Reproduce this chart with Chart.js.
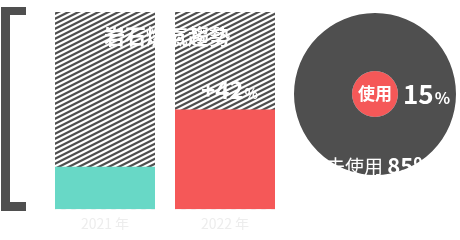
<!DOCTYPE html>
<html><head><meta charset="utf-8">
<script src="https://cdn.jsdelivr.net/npm/chart.js@4/dist/chart.umd.min.js"></script>
<style>
html,body{margin:0;padding:0;background:#fff;width:460px;height:240px;overflow:hidden;}
#bracket{position:absolute;left:1px;top:7px;width:16px;height:187px;border-left:9px solid #4f4f4f;border-top:8px solid #4f4f4f;border-bottom:9px solid #4f4f4f;}
#bars{position:absolute;left:0;top:0;}
#pie{position:absolute;left:290px;top:0;}
</style></head><body>
<div id="bracket"></div>
<canvas id="bars" width="300" height="240"></canvas>
<canvas id="pie" width="170" height="188"></canvas>
<script>
const years = ['2021 年', '2022 年'];
const shareValues = [21.5, 50.5];
const fullValues = [100, 100];
const titleText = '岩石燃氣趨勢';
const growthNumber = '+42';
const usageLabels = ['未使用', '使用'];
const usageValues = [85, 15];

const DARK = '#4f4f4f';
const FONT = "'Noto Sans CJK TC','Noto Sans',sans-serif";

function makeHatch() {
  const w = 10, h = 5;
  const c = document.createElement('canvas');
  c.width = w; c.height = h;
  const g = c.getContext('2d');
  const img = g.createImageData(w, h);
  for (let y = 0; y < h; y++) for (let x = 0; x < w; x++) {
    let cov = 0;
    for (let sy = 0; sy < 4; sy++) for (let sx = 0; sx < 4; sx++) {
      const px = x + (sx + 0.5) / 4, py = y + (sy + 0.5) / 4;
      const ph = ((py + px / 2) % 5 + 5) % 5;
      if (ph < 2.5) cov++;
    }
    const a = cov / 16;
    const v = Math.round(255 * (1 - a) + 0x4f * a);
    const i = (y * w + x) * 4;
    img.data[i] = v; img.data[i+1] = v; img.data[i+2] = v; img.data[i+3] = 255;
  }
  g.putImageData(img, 0, 0);
  return g.createPattern(c, 'repeat');
}
const hatch = makeHatch();

const barText = {
  id: 'barText',
  afterDatasetsDraw(chart) {
    const ctx = chart.ctx;
    const xs = chart.scales.x;
    const area = chart.chartArea;
    ctx.save();
    ctx.fillStyle = '#ffffff';
    ctx.textAlign = 'center';
    ctx.textBaseline = 'middle';
    ctx.font = 'bold 21px ' + FONT;
    const cx = (xs.getPixelForValue(0) + xs.getPixelForValue(1)) / 2;
    ctx.fillText(titleText, cx + 2, area.top + 24);
    const bar = chart.getDatasetMeta(0).data[1];
    ctx.font = 'bold 24px ' + FONT;
    const w1 = ctx.measureText(growthNumber).width;
    ctx.font = 'bold 14px ' + FONT;
    const w2 = ctx.measureText('%').width;
    const start = bar.x + 4 - (w1 + w2) / 2;
    ctx.textAlign = 'left';
    ctx.textBaseline = 'alphabetic';
    ctx.font = 'bold 24px ' + FONT;
    ctx.fillText(growthNumber, start, bar.y - 11);
    ctx.font = 'bold 14px ' + FONT;
    ctx.fillText('%', start + w1 + 1, bar.y - 11);
    ctx.restore();
  }
};

new Chart(document.getElementById('bars'), {
  type: 'bar',
  data: {
    labels: years,
    datasets: [
      { data: shareValues, backgroundColor: ['#68d8c6', '#f55858'], order: 1, grouped: false, borderWidth: 0 },
      { data: fullValues, backgroundColor: hatch, order: 2, grouped: false, borderWidth: 0 }
    ]
  },
  options: {
    responsive: false, animation: false, devicePixelRatio: 1,
    layout: { padding: { left: 45, right: 15, top: 12, bottom: 10 } },
    datasets: { bar: { categoryPercentage: 1, barPercentage: 100 / 120 } },
    plugins: { legend: { display: false }, tooltip: { enabled: false }, title: { display: false } },
    scales: {
      x: { grid: { display: false }, border: { display: false },
           ticks: { color: '#ededed', font: { size: 14, family: FONT }, padding: -2 } },
      y: { display: false, min: 0, max: 100 }
    }
  },
  plugins: [barText]
});

const pieText = {
  id: 'pieText',
  afterDraw(chart) {
    const ctx = chart.ctx;
    const dot = chart.getDatasetMeta(1).data[0];
    const cx = dot.x, cy = dot.y;
    ctx.save();
    ctx.fillStyle = '#ffffff';
    ctx.textBaseline = 'middle';
    ctx.textAlign = 'center';
    ctx.font = 'bold 17px ' + FONT;
    ctx.fillText(usageLabels[1], cx, cy);
    ctx.textAlign = 'left';
    ctx.textBaseline = 'alphabetic';
    ctx.font = 'bold 26px ' + FONT;
    const n1 = String(usageValues[1]);
    ctx.fillText(n1, cx + 28, cy + 10);
    const w1 = ctx.measureText(n1).width;
    ctx.font = 'bold 16px ' + FONT;
    ctx.fillText('%', cx + 29 + w1, cy + 10);
    ctx.font = '19px ' + FONT;
    const lab = usageLabels[0] + ' ';
    ctx.fillText(lab, cx - 49, cy + 80);
    const wl = ctx.measureText(lab).width;
    ctx.font = 'bold 22px ' + FONT;
    ctx.fillText(String(usageValues[0]) + '%', cx - 49 + wl, cy + 80);
    ctx.restore();
  }
};

new Chart(document.getElementById('pie'), {
  type: 'pie',
  data: {
    labels: [usageLabels[0]],
    datasets: [
      { data: [usageValues[0]], backgroundColor: [DARK], borderWidth: 0, weight: 58 },
      { data: [usageValues[1]], backgroundColor: ['#f55858'], borderWidth: 0, weight: 23 }
    ]
  },
  options: {
    responsive: false, animation: false, devicePixelRatio: 1,
    layout: { padding: 4 },
    plugins: { legend: { display: false }, tooltip: { enabled: false } }
  },
  plugins: [pieText]
});
</script>
</body></html>
